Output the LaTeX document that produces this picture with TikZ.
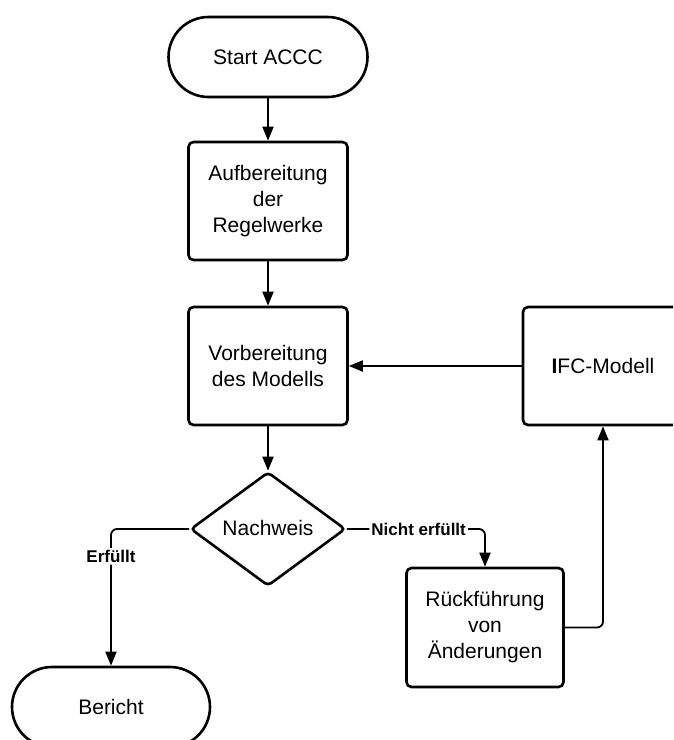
\documentclass[tikz,border=0pt]{standalone}
\usepackage{fontspec}
\setmainfont{Liberation Sans}
\usetikzlibrary{arrows.meta,shapes.geometric}

\begin{document}
\begin{tikzpicture}[x=1pt,y=-1pt,
  every node/.style={font=\fontsize{21}{26}\selectfont, text=black},
  box/.style={draw, line width=2.6pt, rounded corners=5pt, minimum width=159pt,
    minimum height=118pt, align=center, inner sep=0pt},
  term/.style={draw, line width=2.6pt, rounded corners=40pt, minimum width=199pt,
    minimum height=80pt, inner sep=0pt},
  decision/.style={draw, diamond, line width=2.6pt, rounded corners=4pt,
    minimum width=155pt, minimum height=114pt, inner sep=0pt},
  conn/.style={line width=1.8pt, rounded corners=6pt,
    -{Triangle[length=14pt,width=11pt]}},
  lbl/.style={font=\bfseries\fontsize{17}{20}\selectfont, fill=white, inner sep=2pt}
]
  \clip (0,0) rectangle (673,740);

  % process nodes
  \node[term] (start) at (268,57) {Start ACCC};
  \node[box] (auf) at (268,201) {Aufbereitung\\der\\Regelwerke};
  \node[box] (vor) at (268,366) {Vorbereitung\\des Modells};
  \node[box, minimum width=160pt] (ifc) at (603,366) {\textbf{I}FC-Modell};
  \node[decision] (nach) at (268,529) {\raisebox{2pt}{Nachweis}};
  \node[box, minimum width=157pt, minimum height=119pt] (rueck) at (485,627.5)
    {Rückführung\\von\\Änderungen};
  \node[term, minimum width=198pt] (bericht) at (111,707) {Bericht};

  % connectors
  \draw[conn] (start) -- (auf);
  \draw[conn] (auf) -- (vor);
  \draw[conn] (vor) -- (nach);
  \draw[conn] (ifc) -- (vor);
  \draw[conn] (nach.west) -| node[lbl, pos=0.6] {Erfüllt} (bericht.north);
  \draw[conn] (nach.east) -| node[lbl, pos=0.26] {Nicht erfüllt} (rueck.north);
  \draw[conn] (rueck.east) -| (ifc.south);
\end{tikzpicture}
\end{document}
